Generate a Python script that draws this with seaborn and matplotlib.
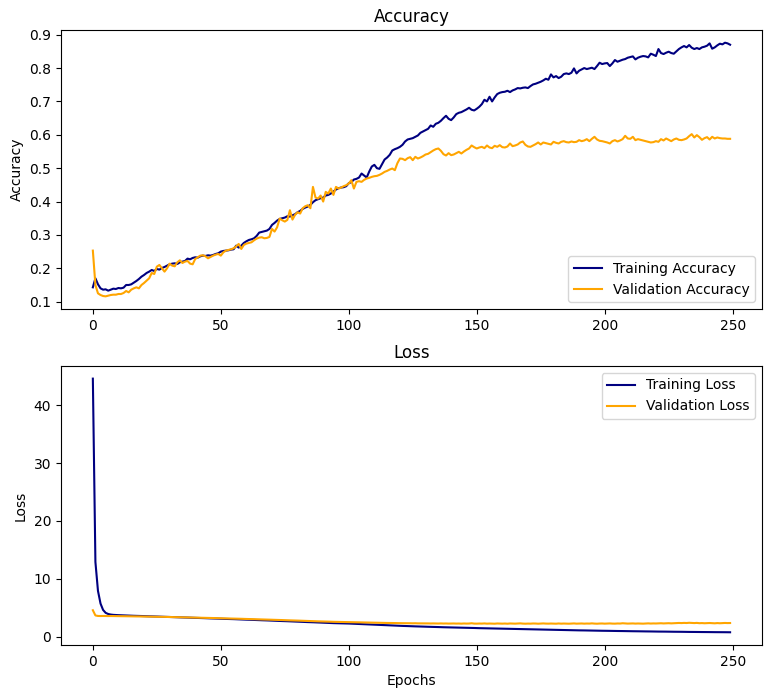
import numpy as np
import pandas as pd
import matplotlib
matplotlib.use("Agg")
import matplotlib.pyplot as plt
import seaborn as sns

epochs = list(range(250))

train_acc = [
    0.143, 0.170, 0.152, 0.140, 0.136, 0.137, 0.133, 0.136, 0.139, 0.138,
    0.141, 0.140, 0.142, 0.150, 0.150, 0.152, 0.157, 0.162, 0.168, 0.175,
    0.180, 0.186, 0.190, 0.195, 0.192, 0.198, 0.196, 0.201, 0.204, 0.208,
    0.212, 0.214, 0.215, 0.213, 0.218, 0.220, 0.222, 0.229, 0.227, 0.231,
    0.233, 0.232, 0.236, 0.238, 0.237, 0.239, 0.238, 0.240, 0.243, 0.245,
    0.250, 0.252, 0.253, 0.254, 0.256, 0.257, 0.268, 0.262, 0.268, 0.276,
    0.281, 0.285, 0.287, 0.290, 0.297, 0.307, 0.309, 0.311, 0.313, 0.318,
    0.330, 0.336, 0.343, 0.348, 0.350, 0.352, 0.356, 0.355, 0.359, 0.362,
    0.368, 0.372, 0.378, 0.382, 0.385, 0.390, 0.398, 0.404, 0.407, 0.410,
    0.412, 0.418, 0.420, 0.424, 0.430, 0.436, 0.440, 0.442, 0.443, 0.446,
    0.455, 0.458, 0.466, 0.468, 0.472, 0.484, 0.478, 0.472, 0.490, 0.505,
    0.510, 0.500, 0.498, 0.512, 0.526, 0.532, 0.540, 0.553, 0.557, 0.560,
    0.564, 0.570, 0.580, 0.586, 0.588, 0.590, 0.594, 0.598, 0.606, 0.610,
    0.614, 0.618, 0.628, 0.624, 0.633, 0.636, 0.642, 0.650, 0.657, 0.648,
    0.644, 0.652, 0.662, 0.666, 0.668, 0.672, 0.676, 0.681, 0.675, 0.673,
    0.678, 0.684, 0.692, 0.705, 0.700, 0.714, 0.700, 0.712, 0.722, 0.726,
    0.728, 0.729, 0.732, 0.728, 0.733, 0.736, 0.740, 0.739, 0.741, 0.742,
    0.740, 0.746, 0.751, 0.753, 0.756, 0.759, 0.763, 0.768, 0.765, 0.781,
    0.772, 0.776, 0.770, 0.774, 0.782, 0.784, 0.782, 0.786, 0.799, 0.784,
    0.792, 0.796, 0.800, 0.797, 0.799, 0.801, 0.797, 0.806, 0.816, 0.812,
    0.814, 0.815, 0.806, 0.814, 0.824, 0.819, 0.822, 0.825, 0.827, 0.831,
    0.833, 0.835, 0.826, 0.831, 0.834, 0.836, 0.835, 0.832, 0.843, 0.840,
    0.836, 0.857, 0.845, 0.842, 0.846, 0.849, 0.845, 0.843, 0.850, 0.857,
    0.862, 0.866, 0.862, 0.869, 0.861, 0.857, 0.860, 0.857, 0.862, 0.864,
    0.867, 0.874, 0.858, 0.862, 0.868, 0.873, 0.871, 0.876, 0.874, 0.870,
]

val_acc = [
    0.253, 0.150, 0.125, 0.120, 0.117, 0.116, 0.118, 0.120, 0.121, 0.121,
    0.123, 0.123, 0.126, 0.132, 0.128, 0.136, 0.140, 0.143, 0.140, 0.150,
    0.156, 0.163, 0.170, 0.186, 0.183, 0.205, 0.210, 0.200, 0.190, 0.200,
    0.214, 0.208, 0.206, 0.218, 0.224, 0.216, 0.220, 0.222, 0.214, 0.212,
    0.228, 0.233, 0.238, 0.239, 0.236, 0.230, 0.234, 0.238, 0.241, 0.243,
    0.238, 0.248, 0.253, 0.255, 0.257, 0.260, 0.266, 0.273, 0.258, 0.270,
    0.274, 0.276, 0.278, 0.284, 0.289, 0.292, 0.293, 0.290, 0.291, 0.294,
    0.318, 0.310, 0.323, 0.349, 0.344, 0.340, 0.345, 0.374, 0.346, 0.360,
    0.368, 0.364, 0.380, 0.386, 0.389, 0.380, 0.444, 0.412, 0.409, 0.418,
    0.400, 0.429, 0.424, 0.439, 0.420, 0.444, 0.439, 0.442, 0.446, 0.449,
    0.454, 0.464, 0.439, 0.459, 0.461, 0.459, 0.465, 0.469, 0.471, 0.474,
    0.476, 0.477, 0.480, 0.484, 0.489, 0.492, 0.496, 0.499, 0.494, 0.515,
    0.529, 0.528, 0.524, 0.530, 0.533, 0.524, 0.534, 0.529, 0.532, 0.536,
    0.541, 0.543, 0.548, 0.553, 0.557, 0.559, 0.552, 0.542, 0.538, 0.545,
    0.539, 0.541, 0.545, 0.549, 0.544, 0.550, 0.555, 0.559, 0.568, 0.563,
    0.559, 0.562, 0.564, 0.560, 0.568, 0.562, 0.560, 0.567, 0.564, 0.569,
    0.563, 0.562, 0.565, 0.574, 0.566, 0.568, 0.571, 0.577, 0.580, 0.570,
    0.565, 0.564, 0.568, 0.572, 0.577, 0.571, 0.577, 0.575, 0.573, 0.571,
    0.579, 0.576, 0.574, 0.579, 0.581, 0.578, 0.577, 0.580, 0.578, 0.579,
    0.584, 0.581, 0.583, 0.587, 0.581, 0.588, 0.594, 0.586, 0.582, 0.581,
    0.579, 0.577, 0.574, 0.581, 0.584, 0.580, 0.583, 0.587, 0.597, 0.589,
    0.588, 0.594, 0.584, 0.587, 0.585, 0.583, 0.581, 0.579, 0.577, 0.578,
    0.581, 0.579, 0.587, 0.583, 0.589, 0.585, 0.581, 0.586, 0.589, 0.585,
    0.584, 0.586, 0.589, 0.596, 0.602, 0.592, 0.599, 0.593, 0.585, 0.590,
    0.593, 0.586, 0.594, 0.589, 0.592, 0.590, 0.589, 0.589, 0.588, 0.588,
]

train_loss = [
    44.6, 12.9, 7.9, 5.7, 4.6, 4.1, 3.9, 3.8, 3.75, 3.72,
    3.70, 3.68, 3.66, 3.64, 3.62, 3.61, 3.59, 3.58, 3.56, 3.55,
    3.53, 3.52, 3.50, 3.49, 3.47, 3.46, 3.44, 3.43, 3.41, 3.40,
    3.38, 3.37, 3.35, 3.34, 3.32, 3.31, 3.29, 3.28, 3.26, 3.25,
    3.23, 3.22, 3.20, 3.19, 3.17, 3.16, 3.14, 3.13, 3.11, 3.10,
    3.08, 3.07, 3.05, 3.04, 3.02, 3.01, 2.99, 2.97, 2.96, 2.94,
    2.92, 2.91, 2.89, 2.87, 2.86, 2.84, 2.82, 2.81, 2.79, 2.77,
    2.75, 2.74, 2.72, 2.70, 2.68, 2.67, 2.65, 2.63, 2.61, 2.60,
    2.58, 2.56, 2.54, 2.52, 2.50, 2.49, 2.47, 2.45, 2.43, 2.41,
    2.40, 2.38, 2.36, 2.34, 2.32, 2.31, 2.29, 2.28, 2.27, 2.26,
    2.25, 2.23, 2.21, 2.19, 2.17, 2.15, 2.13, 2.11, 2.09, 2.07,
    2.05, 2.03, 2.01, 1.99, 1.97, 1.95, 1.93, 1.91, 1.90, 1.88,
    1.86, 1.84, 1.83, 1.81, 1.79, 1.78, 1.76, 1.75, 1.73, 1.72,
    1.70, 1.69, 1.68, 1.66, 1.65, 1.64, 1.62, 1.61, 1.60, 1.59,
    1.58, 1.57, 1.56, 1.55, 1.54, 1.52, 1.51, 1.50, 1.49, 1.48,
    1.46, 1.45, 1.44, 1.43, 1.42, 1.41, 1.40, 1.39, 1.38, 1.37,
    1.36, 1.35, 1.34, 1.33, 1.32, 1.31, 1.30, 1.29, 1.28, 1.27,
    1.26, 1.25, 1.24, 1.23, 1.22, 1.21, 1.20, 1.19, 1.18, 1.17,
    1.16, 1.15, 1.14, 1.13, 1.12, 1.12, 1.11, 1.10, 1.09, 1.08,
    1.07, 1.07, 1.06, 1.05, 1.04, 1.03, 1.03, 1.02, 1.01, 1.00,
    1.00, 0.99, 0.98, 0.98, 0.97, 0.96, 0.96, 0.95, 0.94, 0.94,
    0.93, 0.92, 0.92, 0.91, 0.90, 0.90, 0.89, 0.89, 0.88, 0.87,
    0.87, 0.86, 0.86, 0.85, 0.85, 0.84, 0.84, 0.83, 0.83, 0.82,
    0.82, 0.81, 0.81, 0.80, 0.80, 0.79, 0.79, 0.78, 0.78, 0.78,
    0.77, 0.77, 0.76, 0.76, 0.76, 0.75, 0.75, 0.75, 0.74, 0.74,
]

val_loss = [
    4.55, 3.65, 3.56, 3.55, 3.56, 3.55, 3.54, 3.55, 3.54, 3.53,
    3.53, 3.52, 3.52, 3.51, 3.50, 3.50, 3.49, 3.48, 3.48, 3.47,
    3.46, 3.45, 3.45, 3.44, 3.43, 3.42, 3.41, 3.41, 3.40, 3.39,
    3.38, 3.37, 3.36, 3.35, 3.34, 3.33, 3.32, 3.31, 3.30, 3.29,
    3.28, 3.27, 3.26, 3.25, 3.24, 3.22, 3.21, 3.20, 3.19, 3.18,
    3.16, 3.15, 3.14, 3.13, 3.12, 3.10, 3.09, 3.08, 3.07, 3.05,
    3.04, 3.03, 3.01, 3.00, 2.99, 2.97, 2.96, 2.95, 2.93, 2.92,
    2.90, 2.89, 2.88, 2.86, 2.85, 2.83, 2.82, 2.80, 2.79, 2.77,
    2.76, 2.74, 2.73, 2.71, 2.70, 2.68, 2.66, 2.65, 2.63, 2.62,
    2.60, 2.59, 2.58, 2.56, 2.55, 2.54, 2.52, 2.51, 2.50, 2.49,
    2.48, 2.47, 2.46, 2.45, 2.44, 2.43, 2.42, 2.41, 2.40, 2.40,
    2.39, 2.38, 2.37, 2.37, 2.36, 2.35, 2.35, 2.34, 2.33, 2.33,
    2.32, 2.31, 2.31, 2.30, 2.30, 2.29, 2.30, 2.28, 2.28, 2.27,
    2.28, 2.27, 2.26, 2.27, 2.26, 2.25, 2.27, 2.25, 2.26, 2.24,
    2.25, 2.26, 2.24, 2.25, 2.23, 2.26, 2.24, 2.25, 2.30, 2.24,
    2.23, 2.25, 2.24, 2.27, 2.23, 2.25, 2.24, 2.22, 2.26, 2.24,
    2.23, 2.25, 2.22, 2.26, 2.24, 2.23, 2.25, 2.28, 2.24, 2.22,
    2.24, 2.23, 2.26, 2.25, 2.22, 2.24, 2.27, 2.24, 2.23, 2.25,
    2.24, 2.22, 2.26, 2.23, 2.25, 2.24, 2.22, 2.25, 2.27, 2.23,
    2.24, 2.26, 2.23, 2.25, 2.24, 2.28, 2.24, 2.22, 2.25, 2.26,
    2.23, 2.25, 2.27, 2.24, 2.23, 2.26, 2.25, 2.30, 2.27, 2.24,
    2.25, 2.27, 2.24, 2.26, 2.25, 2.23, 2.26, 2.28, 2.25, 2.27,
    2.26, 2.28, 2.30, 2.27, 2.29, 2.31, 2.28, 2.30, 2.32, 2.35,
    2.33, 2.36, 2.34, 2.38, 2.35, 2.33, 2.36, 2.31, 2.33, 2.30,
    2.32, 2.34, 2.31, 2.29, 2.33, 2.30, 2.32, 2.35, 2.33, 2.34,
]

df = pd.DataFrame({
    "epoch": epochs,
    "train_acc": train_acc,
    "val_acc": val_acc,
    "train_loss": train_loss,
    "val_loss": val_loss,
})

plt.rcParams["font.family"] = ["DejaVu Sans"]

fig, (ax1, ax2) = plt.subplots(2, 1, figsize=(7.72, 6.98), dpi=100)
fig.subplots_adjust(left=0.079, right=0.987, top=0.957, bottom=0.076, hspace=0.204)

sns.lineplot(data=df, x="epoch", y="train_acc", color="navy", label="Training Accuracy", ax=ax1, linewidth=1.5)
sns.lineplot(data=df, x="epoch", y="val_acc", color="orange", label="Validation Accuracy", ax=ax1, linewidth=1.5)
ax1.set_title("Accuracy")
ax1.set_xlabel("")
ax1.set_ylabel("Accuracy")
ax1.legend(loc="lower right")

sns.lineplot(data=df, x="epoch", y="train_loss", color="navy", label="Training Loss", ax=ax2, linewidth=1.5)
sns.lineplot(data=df, x="epoch", y="val_loss", color="orange", label="Validation Loss", ax=ax2, linewidth=1.5)
ax2.set_title("Loss")
ax2.set_xlabel("Epochs")
ax2.set_ylabel("Loss")
ax2.legend(loc="upper right")

for ax in (ax1, ax2):
    ax.set_xticks([0, 50, 100, 150, 200, 250])

fig.savefig("out.png", dpi=100)
